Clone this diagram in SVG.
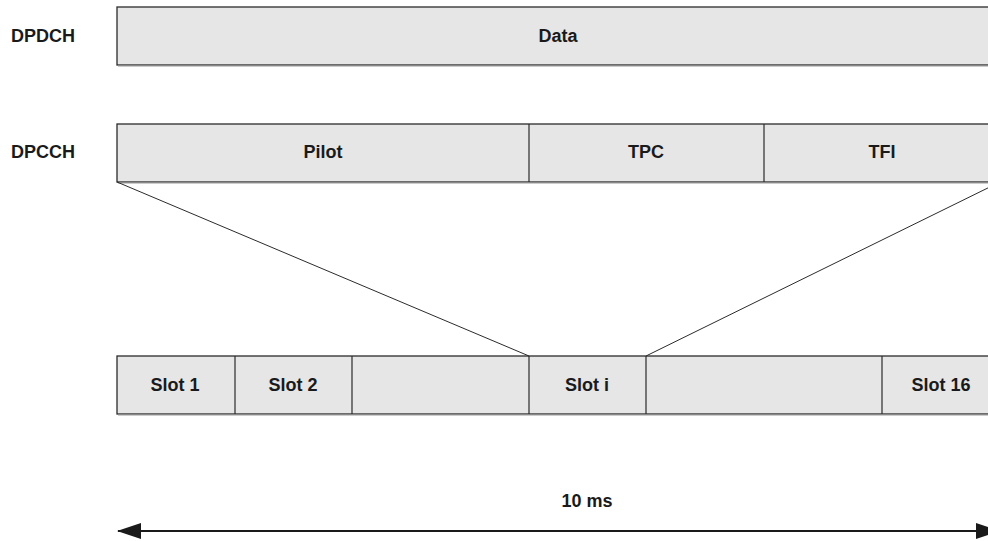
<svg xmlns="http://www.w3.org/2000/svg" width="988" height="541" viewBox="0 0 988 541">
<defs>
<style>
.box{fill:#e6e6e6;stroke:#2b2b2b;stroke-width:1.3}
.shadow{stroke:#999;stroke-width:1.2;fill:none}
.div{stroke:#2b2b2b;stroke-width:1.2}
text{font-family:"Liberation Sans",Arial,sans-serif;font-weight:bold;font-size:18px;fill:#1a1a1a}
.c{text-anchor:middle}
.ln{stroke:#2b2b2b;stroke-width:1;fill:none}
</style>
<marker id="ah" markerWidth="24" markerHeight="16" refX="23" refY="8" orient="auto-start-reverse" markerUnits="userSpaceOnUse">
<path d="M0,0 L24,8 L0,16 Z" fill="#1a1a1a"/>
</marker>
</defs>
<text x="11" y="42">DPDCH</text>
<text x="11" y="158">DPCCH</text>
<g id="dpdch">
<rect class="box" x="117" y="7" width="883" height="58"/>
<line class="shadow" x1="118" y1="66" x2="1000" y2="66"/>
<text class="c" x="558" y="42">Data</text>
</g>
<g id="dpcch">
<rect class="box" x="117" y="124" width="883" height="58"/>
<line class="shadow" x1="118" y1="183" x2="1000" y2="183"/>
<line class="div" x1="529" y1="124" x2="529" y2="182"/>
<line class="div" x1="764" y1="124" x2="764" y2="182"/>
<text class="c" x="323" y="158">Pilot</text>
<text class="c" x="646" y="158">TPC</text>
<text class="c" x="882" y="158">TFI</text>
</g>
<g id="slots">
<rect class="box" x="117" y="356" width="883" height="58"/>
<line class="shadow" x1="118" y1="415" x2="1000" y2="415"/>
<line class="div" x1="235" y1="356" x2="235" y2="414"/>
<line class="div" x1="352" y1="356" x2="352" y2="414"/>
<line class="div" x1="529" y1="356" x2="529" y2="414"/>
<line class="div" x1="646" y1="356" x2="646" y2="414"/>
<line class="div" x1="882" y1="356" x2="882" y2="414"/>
<text class="c" x="175" y="391">Slot 1</text>
<text class="c" x="293" y="391">Slot 2</text>
<text class="c" x="587" y="391">Slot i</text>
<text class="c" x="941" y="391">Slot 16</text>
</g>
<g id="connectors">
<line class="ln" x1="117" y1="182" x2="529" y2="356"/>
<line class="ln" x1="1000" y1="182" x2="646" y2="356"/>
<line x1="118" y1="531" x2="999" y2="531" stroke="#1a1a1a" stroke-width="2.2" marker-start="url(#ah)" marker-end="url(#ah)"/>
</g>
<text class="c" x="587" y="507">10 ms</text>
</svg>
